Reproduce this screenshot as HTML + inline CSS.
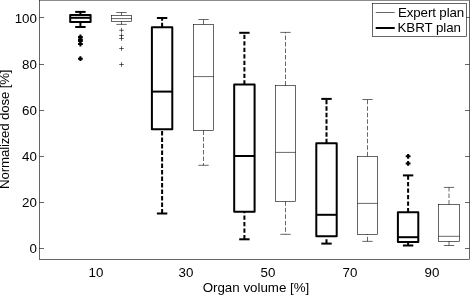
<!DOCTYPE html>
<html><head><meta charset="utf-8"><title>Box plot</title>
<style>
html,body{margin:0;padding:0;background:#fff;}
svg{display:block;filter:grayscale(1);}
text{font-family:"Liberation Sans",Arial,Helvetica,sans-serif;font-size:13.33px;fill:#000;}
.ax line,.ax rect{stroke:#000;stroke-width:0.6;fill:none;}
.k line,.k rect,.k path{stroke:#000;stroke-width:2;fill:none;stroke-linejoin:round;}
.e line,.e rect,.e path{stroke:#000;stroke-width:0.6;fill:none;}
</style></head><body>
<svg width="470" height="295" viewBox="0 0 470 295">
<rect x="0" y="0" width="470" height="295" fill="#fff"/>
<g class="ax">
<rect x="39.5" y="0.15" width="430.0" height="259.35"/>
<line x1="39.5" y1="248.5" x2="44.0" y2="248.5"/><line x1="469.5" y1="248.5" x2="465.0" y2="248.5"/><line x1="39.5" y1="202.5" x2="44.0" y2="202.5"/><line x1="469.5" y1="202.5" x2="465.0" y2="202.5"/><line x1="39.5" y1="156.5" x2="44.0" y2="156.5"/><line x1="469.5" y1="156.5" x2="465.0" y2="156.5"/><line x1="39.5" y1="110.5" x2="44.0" y2="110.5"/><line x1="469.5" y1="110.5" x2="465.0" y2="110.5"/><line x1="39.5" y1="64.5" x2="44.0" y2="64.5"/><line x1="469.5" y1="64.5" x2="465.0" y2="64.5"/><line x1="39.5" y1="17.5" x2="44.0" y2="17.5"/><line x1="469.5" y1="17.5" x2="465.0" y2="17.5"/>
</g>
<text x="36.95" y="253.45" text-anchor="end">0</text><text x="36.95" y="207.2" text-anchor="end">20</text><text x="36.95" y="160.9" text-anchor="end">40</text><text x="36.95" y="114.9" text-anchor="end">60</text><text x="36.95" y="68.9" text-anchor="end">80</text><text x="36.95" y="23.0" text-anchor="end">100</text>
<text x="96" y="276.8" text-anchor="middle">10</text><text x="186" y="276.8" text-anchor="middle">30</text><text x="268" y="276.8" text-anchor="middle">50</text><text x="350" y="276.8" text-anchor="middle">70</text><text x="432" y="276.8" text-anchor="middle">90</text>
<text x="256" y="292.3" text-anchor="middle">Organ volume [%]</text>
<text transform="translate(8.8,129.2) rotate(-90)" text-anchor="middle" textLength="119.4" lengthAdjust="spacing">Normalized dose [%]</text>
<g class="k">
<line x1="80.4" y1="15.0" x2="80.4" y2="11.9" stroke-dasharray="4.4 2.1"/>
<line x1="80.4" y1="27.0" x2="80.4" y2="22.0" stroke-dasharray="4.4 2.1"/>
<line x1="75.2" y1="11.9" x2="85.60000000000001" y2="11.9"/>
<line x1="75.2" y1="27.0" x2="85.60000000000001" y2="27.0"/>
<rect x="70.2" y="15.0" width="20.4" height="7.0"/>
<line x1="70.2" y1="17.8" x2="90.6" y2="17.8"/>
<path d="M78.0 36.9H82.80000000000001M80.4 34.5V39.3"/>
<circle cx="80.4" cy="36.9" r="1.35" fill="#000" stroke="none"/>
<path d="M78.0 39.4H82.80000000000001M80.4 37.0V41.8"/>
<circle cx="80.4" cy="39.4" r="1.35" fill="#000" stroke="none"/>
<path d="M78.0 41.1H82.80000000000001M80.4 38.7V43.5"/>
<circle cx="80.4" cy="41.1" r="1.35" fill="#000" stroke="none"/>
<path d="M78.0 44.0H82.80000000000001M80.4 41.6V46.4"/>
<circle cx="80.4" cy="44.0" r="1.35" fill="#000" stroke="none"/>
<path d="M78.0 58.7H82.80000000000001M80.4 56.300000000000004V61.1"/>
<circle cx="80.4" cy="58.7" r="1.35" fill="#000" stroke="none"/>
</g><g class="k">
<line x1="162.1" y1="27.25" x2="162.1" y2="18.0" stroke-dasharray="4.4 2.1"/>
<line x1="162.1" y1="213.5" x2="162.1" y2="129.3" stroke-dasharray="4.4 2.1"/>
<line x1="156.9" y1="18.0" x2="167.29999999999998" y2="18.0"/>
<line x1="156.9" y1="213.5" x2="167.29999999999998" y2="213.5"/>
<rect x="151.9" y="27.25" width="20.4" height="102.1"/>
<line x1="151.9" y1="91.6" x2="172.3" y2="91.6"/>
</g><g class="k">
<line x1="244.4" y1="84.6" x2="244.4" y2="32.8" stroke-dasharray="4.4 2.1"/>
<line x1="244.4" y1="239.3" x2="244.4" y2="211.8" stroke-dasharray="4.4 2.1"/>
<line x1="239.20000000000002" y1="32.8" x2="249.6" y2="32.8"/>
<line x1="239.20000000000002" y1="239.3" x2="249.6" y2="239.3"/>
<rect x="234.2" y="84.6" width="20.4" height="127.2"/>
<line x1="234.2" y1="156" x2="254.6" y2="156"/>
</g><g class="k">
<line x1="326.5" y1="143.2" x2="326.5" y2="98.9" stroke-dasharray="4.4 2.1"/>
<line x1="326.5" y1="243.6" x2="326.5" y2="236.2" stroke-dasharray="4.4 2.1"/>
<line x1="321.3" y1="98.9" x2="331.7" y2="98.9"/>
<line x1="321.3" y1="243.6" x2="331.7" y2="243.6"/>
<rect x="316.3" y="143.2" width="20.4" height="93.0"/>
<line x1="316.3" y1="214.8" x2="336.7" y2="214.8"/>
</g><g class="k">
<line x1="408.1" y1="212.3" x2="408.1" y2="175.4" stroke-dasharray="4.4 2.1"/>
<line x1="408.1" y1="245.5" x2="408.1" y2="242.0" stroke-dasharray="4.4 2.1"/>
<line x1="402.90000000000003" y1="175.4" x2="413.3" y2="175.4"/>
<line x1="402.90000000000003" y1="245.5" x2="413.3" y2="245.5"/>
<rect x="397.9" y="212.3" width="20.4" height="29.7"/>
<line x1="397.9" y1="237.2" x2="418.3" y2="237.2"/>
<path d="M405.70000000000005 156.3H410.5M408.1 153.9V158.70000000000002"/>
<circle cx="408.1" cy="156.3" r="1.35" fill="#000" stroke="none"/>
<path d="M405.70000000000005 163.4H410.5M408.1 161.0V165.8"/>
<circle cx="408.1" cy="163.4" r="1.35" fill="#000" stroke="none"/>
</g>
<g class="e">
<line x1="121.5" y1="15.5" x2="121.5" y2="12.5" stroke-dasharray="4.5 2.0"/>
<line x1="121.5" y1="24.4" x2="121.5" y2="21.6" stroke-dasharray="4.5 2.0"/>
<line x1="116.3" y1="12.5" x2="126.7" y2="12.5"/>
<line x1="116.3" y1="24.4" x2="126.7" y2="24.4"/>
<rect x="111.5" y="15.5" width="20.0" height="6.1"/>
<line x1="111.5" y1="18.6" x2="131.5" y2="18.6"/>
<path d="M119.2 30.3H123.8M121.5 28.0V32.6"/>
<path d="M119.2 35.5H123.8M121.5 33.2V37.8"/>
<path d="M119.2 38.5H123.8M121.5 36.2V40.8"/>
<path d="M119.2 48.5H123.8M121.5 46.2V50.8"/>
<path d="M119.2 64.5H123.8M121.5 62.2V66.8"/>
</g><g class="e">
<line x1="203.5" y1="24.4" x2="203.5" y2="19.5" stroke-dasharray="4.5 2.0"/>
<line x1="203.5" y1="130.5" x2="203.5" y2="165.3" stroke-dasharray="4.5 2.0"/>
<line x1="198.3" y1="19.5" x2="208.7" y2="19.5"/>
<line x1="198.3" y1="165.3" x2="208.7" y2="165.3"/>
<rect x="193.5" y="24.4" width="20.0" height="106.1"/>
<line x1="193.5" y1="76.6" x2="213.5" y2="76.6"/>
</g><g class="e">
<line x1="285.5" y1="85.5" x2="285.5" y2="32.4" stroke-dasharray="4.5 2.0"/>
<line x1="285.5" y1="201.3" x2="285.5" y2="234.3" stroke-dasharray="4.5 2.0"/>
<line x1="280.3" y1="32.4" x2="290.7" y2="32.4"/>
<line x1="280.3" y1="234.3" x2="290.7" y2="234.3"/>
<rect x="275.5" y="85.5" width="20.0" height="115.8"/>
<line x1="275.5" y1="152.4" x2="295.5" y2="152.4"/>
</g><g class="e">
<line x1="367.5" y1="156.3" x2="367.5" y2="99.5" stroke-dasharray="4.5 2.0"/>
<line x1="367.5" y1="241.35" x2="367.5" y2="234.3" stroke-dasharray="4.5 2.0"/>
<line x1="362.3" y1="99.5" x2="372.7" y2="99.5"/>
<line x1="362.3" y1="241.35" x2="372.7" y2="241.35"/>
<rect x="357.5" y="156.3" width="20.0" height="78.0"/>
<line x1="357.5" y1="203.4" x2="377.5" y2="203.4"/>
</g><g class="e">
<line x1="449.0" y1="204.5" x2="449.0" y2="187.4" stroke-dasharray="4.5 2.0"/>
<line x1="449.0" y1="245.5" x2="449.0" y2="241.4" stroke-dasharray="4.5 2.0"/>
<line x1="443.8" y1="187.4" x2="454.2" y2="187.4"/>
<line x1="443.8" y1="245.5" x2="454.2" y2="245.5"/>
<rect x="438.5" y="204.5" width="21.0" height="36.9"/>
<line x1="438.5" y1="236.3" x2="459.5" y2="236.3"/>
</g>
<g class="ax"><rect x="372.5" y="3.5" width="94" height="33" fill="#fff" style="fill:#fff"/></g>
<line x1="375.7" y1="12.5" x2="394.7" y2="12.5" stroke="#000" stroke-width="0.6"/>
<line x1="375.7" y1="28" x2="394.7" y2="28" stroke="#000" stroke-width="2"/>
<text x="398" y="16.5" textLength="66.2" lengthAdjust="spacing">Expert plan</text>
<text x="397.5" y="32" textLength="63.5" lengthAdjust="spacing">KBRT plan</text>
</svg>
</body></html>
